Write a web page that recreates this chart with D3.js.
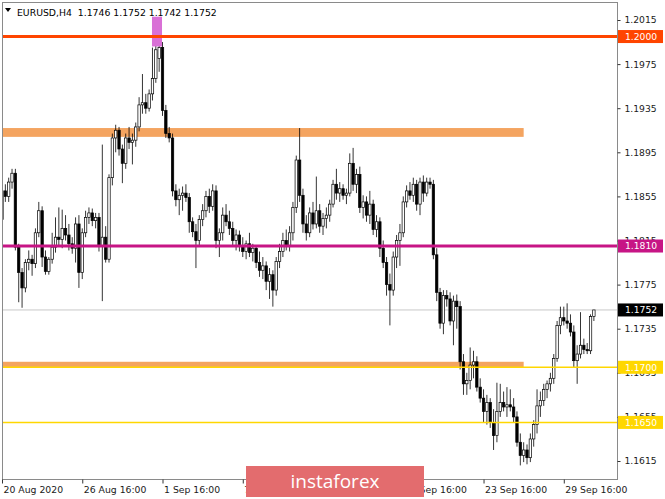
<!DOCTYPE html>
<html><head><meta charset="utf-8">
<script src="https://cdn.jsdelivr.net/npm/d3@7"></script>
<style>body{margin:0;background:#fff}svg{display:block}</style>
</head><body><svg id="c" width="665" height="499"></svg>
<script>
// ---- data ----
const symbol = "EURUSD,H4";
const lastBar = [1.1746, 1.1752, 1.1742, 1.1752];
// [open, high, low, close] for each H4 bar, from 20 Aug 2020 16:00
const candles = [
[1.1834,1.1866,1.1818,1.1860],[1.1860,1.1866,1.1850,1.1855],[1.1855,1.1872,1.1850,1.1868],[1.1868,1.1880,1.1862,1.1876],
[1.1876,1.1880,1.1806,1.1809],[1.1809,1.1812,1.1759,1.1786],[1.1786,1.1790,1.1754,1.1772],[1.1772,1.1798,1.1768,1.1795],
[1.1795,1.1806,1.1788,1.1798],[1.1798,1.1802,1.1783,1.1794],[1.1794,1.1826,1.1790,1.1822],[1.1822,1.1850,1.1818,1.1842],
[1.1842,1.1846,1.1791,1.1800],[1.1800,1.1806,1.1784,1.1787],[1.1787,1.1800,1.1784,1.1798],[1.1798,1.1822,1.1794,1.1809],
[1.1809,1.1836,1.1804,1.1818],[1.1818,1.1845,1.1810,1.1816],[1.1816,1.1843,1.1808,1.1826],[1.1826,1.1838,1.1815,1.1820],
[1.1820,1.1830,1.1806,1.1812],[1.1812,1.1818,1.1803,1.1808],[1.1808,1.1836,1.1795,1.1830],[1.1830,1.1838,1.1772,1.1786],
[1.1786,1.1826,1.1780,1.1822],[1.1822,1.1842,1.1818,1.1836],[1.1836,1.1845,1.1830,1.1840],[1.1840,1.1844,1.1828,1.1833],
[1.1833,1.1840,1.1826,1.1836],[1.1836,1.1840,1.1805,1.1810],[1.1810,1.1902,1.1760,1.1818],[1.1818,1.1828,1.1795,1.1798],
[1.1798,1.1875,1.1795,1.1872],[1.1872,1.1912,1.1865,1.1908],[1.1908,1.1920,1.1895,1.1915],[1.1915,1.1918,1.1892,1.1898],
[1.1898,1.1902,1.1867,1.1885],[1.1885,1.1912,1.1880,1.1908],[1.1908,1.1918,1.1898,1.1904],[1.1904,1.1912,1.1884,1.1906],
[1.1906,1.1922,1.1900,1.1918],[1.1918,1.1945,1.1914,1.1938],[1.1938,1.1966,1.1930,1.1940],[1.1940,1.1948,1.1930,1.1935],
[1.1935,1.1952,1.1932,1.1948],[1.1948,1.1990,1.1942,1.1962],[1.1962,1.2002,1.1958,1.1988],[1.1980,1.2011,1.1968,1.1990],
[1.1990,1.1995,1.1928,1.1933],[1.1933,1.1938,1.1908,1.1912],[1.1912,1.1918,1.1904,1.1908],[1.1908,1.1912,1.1855,1.1860],
[1.1860,1.1866,1.1846,1.1852],[1.1852,1.1862,1.1838,1.1856],[1.1856,1.1864,1.1842,1.1858],[1.1858,1.1866,1.1850,1.1854],
[1.1854,1.1858,1.1822,1.1832],[1.1832,1.1836,1.1818,1.1823],[1.1823,1.1830,1.1790,1.1815],[1.1815,1.1838,1.1810,1.1834],
[1.1834,1.1848,1.1828,1.1842],[1.1842,1.1860,1.1836,1.1855],[1.1855,1.1862,1.1840,1.1846],[1.1846,1.1866,1.1842,1.1860],
[1.1860,1.1865,1.1808,1.1815],[1.1815,1.1826,1.1800,1.1822],[1.1822,1.1845,1.1815,1.1838],[1.1838,1.1848,1.1828,1.1832],
[1.1832,1.1842,1.1820,1.1826],[1.1826,1.1832,1.1810,1.1815],[1.1815,1.1825,1.1806,1.1820],[1.1820,1.1824,1.1805,1.1810],
[1.1810,1.1818,1.1800,1.1805],[1.1805,1.1815,1.1798,1.1812],[1.1812,1.1822,1.1800,1.1804],[1.1804,1.1812,1.1796,1.1808],
[1.1808,1.1810,1.1790,1.1795],[1.1795,1.1805,1.1782,1.1788],[1.1788,1.1800,1.1780,1.1792],[1.1792,1.1796,1.1770,1.1778],
[1.1778,1.1790,1.1762,1.1784],[1.1784,1.1788,1.1755,1.1770],[1.1770,1.1800,1.1765,1.1796],[1.1796,1.1812,1.1790,1.1805],
[1.1805,1.1822,1.1800,1.1815],[1.1815,1.1825,1.1806,1.1810],[1.1810,1.1828,1.1805,1.1822],[1.1822,1.1850,1.1815,1.1845],
[1.1845,1.1892,1.1840,1.1888],[1.1888,1.1917,1.1850,1.1856],[1.1856,1.1862,1.1822,1.1830],[1.1830,1.1838,1.1815,1.1822],
[1.1822,1.1845,1.1818,1.1840],[1.1840,1.1850,1.1825,1.1830],[1.1830,1.1873,1.1826,1.1842],[1.1842,1.1848,1.1822,1.1828],
[1.1828,1.1840,1.1820,1.1835],[1.1835,1.1845,1.1826,1.1838],[1.1838,1.1852,1.1832,1.1848],[1.1848,1.1870,1.1845,1.1866],
[1.1866,1.1880,1.1852,1.1858],[1.1858,1.1868,1.1850,1.1862],[1.1862,1.1866,1.1852,1.1856],[1.1856,1.1862,1.1848,1.1858],
[1.1858,1.1894,1.1855,1.1885],[1.1885,1.1899,1.1860,1.1866],[1.1866,1.1880,1.1858,1.1875],[1.1875,1.1882,1.1840,1.1845],
[1.1845,1.1856,1.1835,1.1850],[1.1850,1.1855,1.1832,1.1838],[1.1838,1.1860,1.1830,1.1848],[1.1848,1.1852,1.1820,1.1825],
[1.1825,1.1838,1.1818,1.1832],[1.1832,1.1836,1.1800,1.1808],[1.1808,1.1815,1.1790,1.1795],[1.1795,1.1800,1.1765,1.1775],
[1.1775,1.1785,1.1738,1.1770],[1.1770,1.1805,1.1765,1.1800],[1.1800,1.1820,1.1790,1.1815],[1.1815,1.1830,1.1792,1.1822],
[1.1822,1.1855,1.1818,1.1850],[1.1850,1.1865,1.1845,1.1860],[1.1860,1.1868,1.1852,1.1856],[1.1856,1.1872,1.1850,1.1866],
[1.1866,1.1870,1.1842,1.1848],[1.1848,1.1872,1.1838,1.1868],[1.1868,1.1874,1.1850,1.1858],[1.1858,1.1872,1.1855,1.1868],
[1.1868,1.1872,1.1862,1.1866],[1.1866,1.1870,1.1798,1.1802],[1.1802,1.1808,1.1760,1.1768],[1.1768,1.1772,1.1735,1.1740],
[1.1740,1.1770,1.1730,1.1765],[1.1765,1.1770,1.1755,1.1762],[1.1762,1.1768,1.1738,1.1742],[1.1742,1.1765,1.1720,1.1760],
[1.1760,1.1766,1.1735,1.1755],[1.1755,1.1760,1.1698,1.1705],[1.1705,1.1712,1.1675,1.1685],[1.1685,1.1695,1.1675,1.1688],
[1.1688,1.1718,1.1680,1.1702],[1.1702,1.1715,1.1690,1.1705],[1.1705,1.1710,1.1678,1.1682],[1.1682,1.1690,1.1668,1.1672],
[1.1672,1.1680,1.1650,1.1660],[1.1660,1.1675,1.1648,1.1668],[1.1668,1.1672,1.1645,1.1650],[1.1650,1.1662,1.1625,1.1638],
[1.1638,1.1686,1.1632,1.1660],[1.1660,1.1685,1.1655,1.1668],[1.1668,1.1678,1.1660,1.1664],[1.1664,1.1682,1.1655,1.1666],
[1.1666,1.1680,1.1660,1.1664],[1.1664,1.1672,1.1650,1.1655],[1.1655,1.1660,1.1628,1.1632],[1.1632,1.1640,1.1611,1.1620],
[1.1620,1.1632,1.1614,1.1625],[1.1625,1.1630,1.1612,1.1618],[1.1618,1.1640,1.1614,1.1635],[1.1635,1.1652,1.1628,1.1648],
[1.1648,1.1680,1.1640,1.1665],[1.1665,1.1678,1.1655,1.1670],[1.1670,1.1685,1.1665,1.1680],[1.1680,1.1688,1.1672,1.1685],
[1.1685,1.1695,1.1678,1.1690],[1.1690,1.1712,1.1685,1.1708],[1.1708,1.1742,1.1705,1.1738],[1.1738,1.1755,1.1730,1.1745],
[1.1745,1.1755,1.1738,1.1742],[1.1742,1.1758,1.1735,1.1740],[1.1740,1.1748,1.1728,1.1732],[1.1732,1.1738,1.1700,1.1706],
[1.1706,1.1720,1.1685,1.1712],[1.1712,1.1750,1.1708,1.1720],[1.1720,1.1726,1.1712,1.1716],[1.1716,1.1722,1.1712,1.1715],
[1.1715,1.1748,1.1712,1.1746],[1.1746,1.1752,1.1742,1.1752]
];
const yTickValues = [1.2015,1.1975,1.1935,1.1895,1.1855,1.1815,1.1775,1.1735,1.1695,1.1655,1.1615];
const xTickIndex = [0,24,48,72,96,120,144,168];
const xTickLabels = ["20 Aug 2020","26 Aug 16:00","1 Sep 16:00","7 Sep 16:00","11 Sep 16:00","17 Sep 16:00","23 Sep 16:00","29 Sep 16:00"];
const levelPrices = [1.2000, 1.1810, 1.1700, 1.1650];
const zoneRanges = [[1.1909, 1.1917], [1.1700, 1.1705]];
const zoneEndIndex = 156;
const peakBoxPrices = [1.1991, 1.2018];
const peakBoxIndex = [45, 48];
const lastPrice = 1.1752;
const logoText = "instaforex";

// ---- styles ----
const levelColors = ["#FF4500", "#C71585", "#FFD700", "#FFD700"];
const levelWidths = [3, 3, 1.5, 1.5];
const font = "DejaVu Sans, Verdana, sans-serif";

const svg = d3.select("#c");
const L = 2, R = 617, T = 2, B = 479;
const x = d3.scaleLinear().domain([0, candles.length - 1]).range([2, 2 + (candles.length - 1) * 3.344]);
const y = d3.scaleLinear().domain([1.1615, 1.2015]).range([461, 20]);

svg.append("defs").append("clipPath").attr("id", "plot")
  .append("rect").attr("x", L).attr("y", T).attr("width", R - L).attr("height", B - T);

const plot = svg.append("g").attr("clip-path", "url(#plot)");

// zones
plot.selectAll("rect.zone").data(zoneRanges).join("rect")
  .attr("class", "zone")
  .attr("x", L).attr("width", x(zoneEndIndex) - L)
  .attr("y", d => y(d[1])).attr("height", d => y(d[0]) - y(d[1]))
  .attr("fill", "#F4A460");

// last price line
plot.append("line").attr("x1", L).attr("x2", R).attr("y1", y(lastPrice)).attr("y2", y(lastPrice))
  .attr("stroke", "#c8c8c8").attr("stroke-width", 1);

// candles
const bw = 2.4;
const cg = plot.append("g");
cg.selectAll("line.w").data(candles).join("line")
  .attr("x1", (d, i) => x(i)).attr("x2", (d, i) => x(i))
  .attr("y1", d => y(d[1])).attr("y2", d => y(d[2]))
  .attr("stroke", "#000").attr("stroke-width", 0.8);
cg.selectAll("rect.b").data(candles).join("rect")
  .attr("x", (d, i) => x(i) - bw / 2).attr("width", bw)
  .attr("y", d => y(Math.max(d[0], d[3])))
  .attr("height", d => Math.max(0.8, Math.abs(y(d[0]) - y(d[3]))))
  .attr("fill", d => d[3] >= d[0] ? "#fff" : "#000")
  .attr("stroke", "#000").attr("stroke-width", 0.7);

// peak highlight box
plot.append("rect")
  .attr("x", x(peakBoxIndex[0]) - 0.5).attr("width", x(peakBoxIndex[1]) - x(peakBoxIndex[0]))
  .attr("y", y(peakBoxPrices[1])).attr("height", y(peakBoxPrices[0]) - y(peakBoxPrices[1]))
  .attr("fill", "#D970D6");

// level lines
plot.selectAll("line.lvl").data(levelPrices).join("line")
  .attr("x1", L).attr("x2", R)
  .attr("y1", d => y(d)).attr("y2", d => y(d))
  .attr("stroke", (d, i) => levelColors[i]).attr("stroke-width", (d, i) => levelWidths[i]);

// frame
svg.append("rect").attr("x", L + 0.5).attr("y", T + 0.5).attr("width", R - L).attr("height", B - T)
  .attr("fill", "none").attr("stroke", "#8a8a8a").attr("stroke-width", 1);

// y axis
const ya = svg.append("g").attr("transform", `translate(${R + 0.5},0)`)
  .call(d3.axisRight(y).tickValues(yTickValues).tickFormat(d3.format(".4f")).tickSize(3).tickPadding(4));
ya.select(".domain").remove();
ya.selectAll(".tick line").attr("stroke", "#333");
ya.selectAll("text").attr("font-family", font).attr("font-size", 9.2).attr("fill", "#1a1a1a");

// x axis
const xa = svg.append("g").attr("transform", `translate(0,${B + 0.5})`)
  .call(d3.axisBottom(x).tickValues(xTickIndex).tickFormat((d, i) => xTickLabels[i]).tickSize(4).tickPadding(3));
xa.select(".domain").remove();
xa.selectAll(".tick line").attr("stroke", "#333");
xa.selectAll("text").attr("font-family", font).attr("font-size", 9.3).attr("fill", "#1a1a1a")
  .attr("text-anchor", "start").attr("dx", 1);

// price tags
const tags = levelPrices.map((p, i) => ({p, c: levelColors[i]})).concat([{p: lastPrice, c: "#000"}]);
const tg = svg.selectAll("g.tag").data(tags).join("g").attr("class", "tag")
  .attr("transform", d => `translate(${R + 1},${y(d.p)})`);
tg.append("rect").attr("x", 0).attr("y", -6.5).attr("width", 45).attr("height", 13).attr("fill", d => d.c);
tg.append("text").attr("x", 7).attr("y", 0).attr("dy", "0.35em")
  .attr("font-family", font).attr("font-size", 9.2).attr("fill", "#fff")
  .text(d => d3.format(".4f")(d.p));

// title
svg.append("path").attr("d", "M5,8 L11,8 L8,12 Z").attr("fill", "#000");
svg.append("text").attr("x", 17).attr("y", 15.5).attr("font-family", font).attr("font-size", 9.3).attr("fill", "#000")
  .attr("xml:space", "preserve")
  .text(symbol + "  " + lastBar.map(d3.format(".4f")).join(" "));

// logo
const lg = svg.append("g");
lg.append("rect").attr("x", 246).attr("y", 466).attr("width", 178).attr("height", 31).attr("fill", "#E36C6E");
lg.append("text").attr("x", 335).attr("y", 488).attr("text-anchor", "middle")
  .attr("font-family", "Open Sans, Lato, sans-serif").attr("font-size", 19).attr("fill", "#fff")
  .text(logoText);
</script></body></html>
